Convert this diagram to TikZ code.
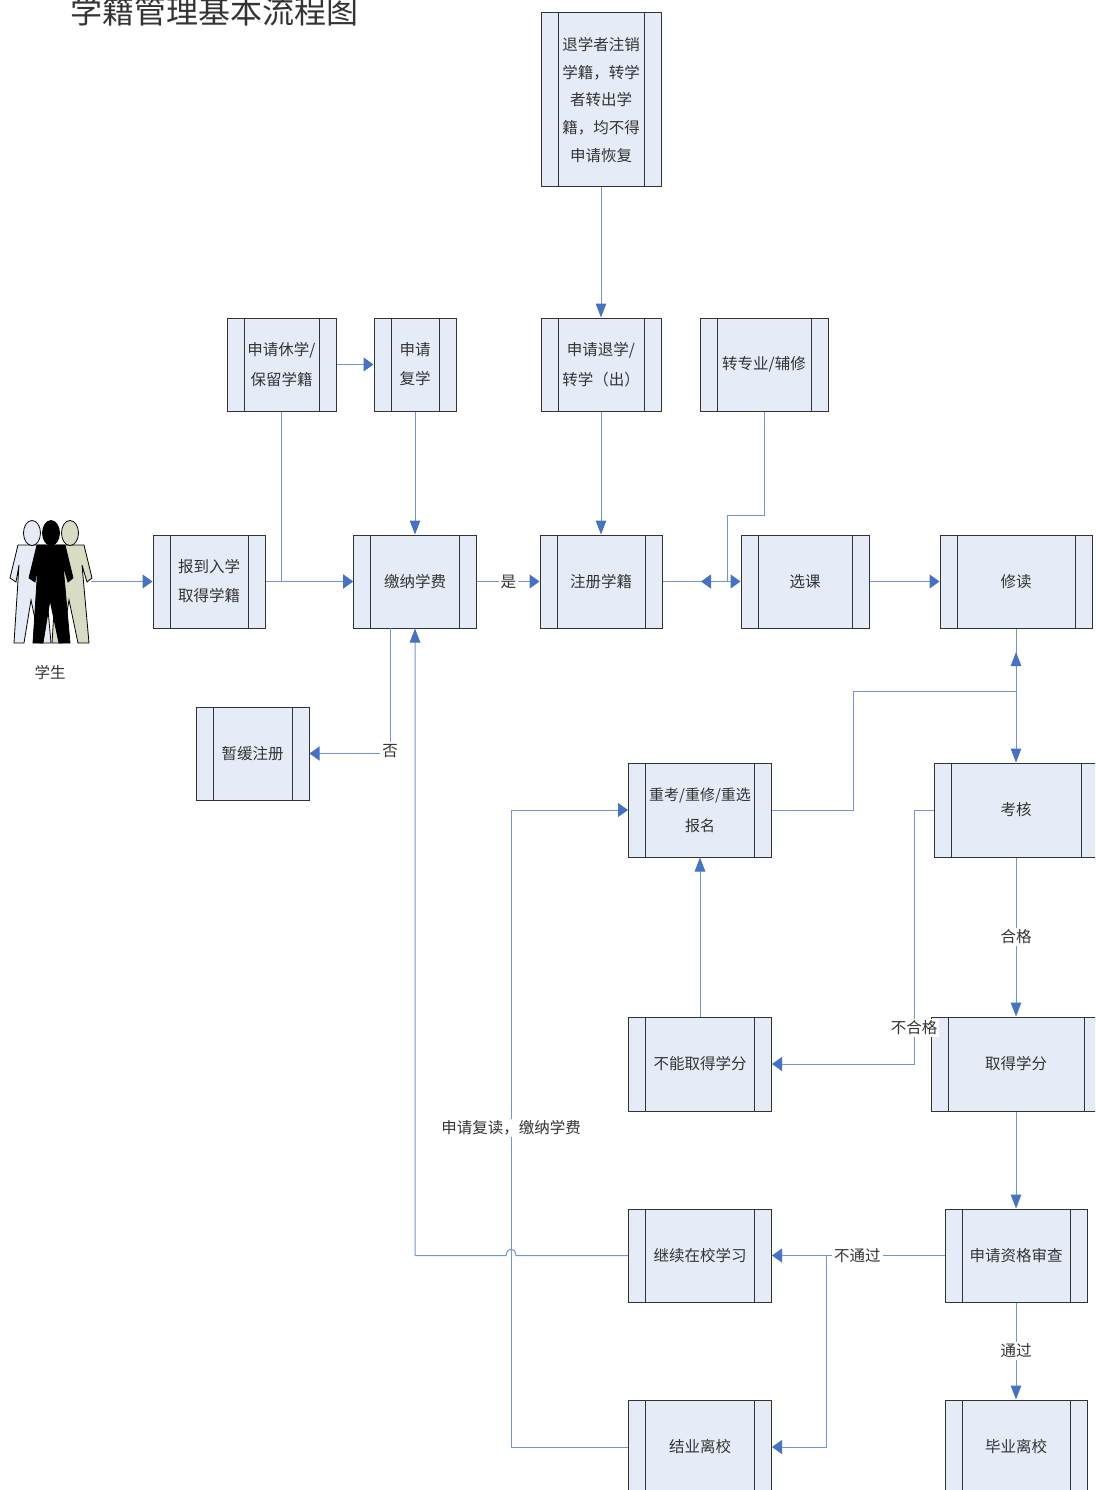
\documentclass[tikz,border=0pt]{standalone}
\usepackage{fontspec}
\setmainfont{Noto Sans CJK SC}
\usetikzlibrary{arrows.meta}
\definecolor{boxfill}{HTML}{E6ECF7}
\definecolor{linkblue}{HTML}{4472C4}
\definecolor{olivebody}{HTML}{D8DCC4}
\tikzset{
    procbox/.style 2 args = {draw = black!80, fill = boxfill, line width = 1pt, inner sep = 0pt,
        minimum width = #1 pt, minimum height = #2 pt, align = center, text = black!80,
        font = \fontsize{15.5}{29}\selectfont,
        path picture = {
            \draw[black!80, line width = 1pt] ([xshift = 17pt]path picture bounding box.south west) -- ([xshift = 17pt]path picture bounding box.north west);
            \draw[black!80, line width = 1pt] ([xshift = -17pt]path picture bounding box.south east) -- ([xshift = -17pt]path picture bounding box.north east);
        }},
    link/.style = {draw = linkblue!75, line width = 1pt},
    hlink/.style = {link, -{Triangle[length = 10pt, width = 14pt, color = linkblue]}},
    vlink/.style = {link, -{Triangle[length = 14pt, width = 10.5pt, color = linkblue]}},
    linklabel/.style = {fill = white, inner sep = 2pt, text = black!80, font = \fontsize{15.5}{18}\selectfont}
}
\begin{document}
\begin{tikzpicture}[x = 1pt, y = -1pt]
            \useasboundingbox (0, 0) rectangle (1095, 1490);
            \clip (0, 0) rectangle (1095, 1490);

            \node[text = black!80, font = \fontsize{32}{36}\selectfont] (title) at (214, 11) {学籍管理基本流程图};

            \foreach \px/\bodycolor in {32/boxfill, 70/olivebody, 51/black} {
                \fill[\bodycolor, draw = black, line width = 0.8pt] (\px - 14, 545) -- (\px + 14, 545) -- (\px + 22, 578) -- (\px + 17, 582) -- (\px + 12, 565) -- (\px + 19, 643) -- (\px + 8, 643) -- (\px - 1, 600) -- (\px - 8, 643) -- (\px - 18, 643) -- (\px - 13, 565) -- (\px - 16, 582) -- (\px - 22, 578) -- cycle;
                \fill[\bodycolor, draw = black, line width = 0.8pt] (\px, 533) ellipse (8.5 and 12.5);
            }
            \node[linklabel] (student) at (50, 673) {学生};
            \coordinate (studentout) at (91, 581.5);

            \node[procbox = {120}{174}, font = \fontsize{15.5}{27.7}\selectfont] (withdrawnote) at (601, 100) {退学者注销\\学籍，转学\\者转出学\\籍，均不得\\申请恢复};
            \node[procbox = {109}{93}, font = \fontsize{15.5}{30}\selectfont] (suspend) at (281.5, 364.5) {申请休学/\\保留学籍};
            \node[procbox = {82}{93}] (resume) at (415, 364.5) {申请\\复学};
            \node[procbox = {120}{93}, font = \fontsize{15.5}{30}\selectfont] (withdraw) at (601, 364.5) {申请退学/\\转学（出）};
            \node[procbox = {128}{93}] (transfer) at (764, 364.5) {转专业/辅修};
            \node[procbox = {112}{93}] (enroll) at (209, 581.5) {报到入学\\取得学籍};
            \node[procbox = {123}{93}] (tuition) at (415, 581.5) {缴纳学费};
            \node[procbox = {122}{93}] (register) at (601, 581.5) {注册学籍};
            \node[procbox = {128}{93}] (select) at (805, 581.5) {选课};
            \node[procbox = {152}{93}] (study) at (1016, 581.5) {修读};
            \node[procbox = {113}{93}] (defer) at (252.5, 753.5) {暂缓注册};
            \node[procbox = {143}{94}, font = \fontsize{15}{31}\selectfont] (retake) at (700, 810) {重考/重修/重选\\报名};
            \node[procbox = {164}{94}] (exam) at (1016, 810) {考核};
            \node[procbox = {143}{94}] (nocredit) at (700, 1064) {不能取得学分};
            \node[procbox = {170}{94}] (credit) at (1016, 1064) {取得学分};
            \node[procbox = {143}{93}] (stay) at (700, 1255.5) {继续在校学习};
            \node[procbox = {142}{93}] (review) at (1016, 1255.5) {申请资格审查};
            \node[procbox = {143}{94}] (complete) at (700, 1447) {结业离校};
            \node[procbox = {142}{94}] (graduate) at (1016, 1447) {毕业离校};

            \coordinate (tuitionout) at (390, 628);
            \coordinate (transferbendA) at (764, 515);
            \coordinate (transferbendB) at (727, 515);
            \coordinate (transfertip) at (701, 581.5);
            \coordinate (retakebendA) at (853, 810);
            \coordinate (retakebendB) at (853, 691);
            \coordinate (studytip) at (1016, 652);
            \coordinate (exambend) at (914, 810);
            \coordinate (stayjump) at (516, 1255.5);
            \coordinate (staybend) at (415, 1255.5);
            \coordinate (completebend) at (511, 1447);
            \coordinate (retakein) at (511, 810);
            \coordinate (failbend) at (826, 1255.5);

            \draw[hlink] (studentout) -- (enroll.west);
            \draw[hlink] (enroll.east) -- (tuition.west);
            \draw[hlink] (suspend.east) -- (resume.west);
            \draw[hlink] (suspend.south) |- (tuition.west);
            \draw[vlink] (resume.south) -- (tuition.north);
            \draw[hlink] (tuition.east) -- (register.west) node[linklabel, midway] (yes) {是};
            \draw[vlink] (withdrawnote.south) -- (withdraw.north);
            \draw[vlink] (withdraw.south) -- (register.north);
            \draw[hlink] (register.east) -- (select.west);
            \draw[hlink] (transfer.south) -- (transferbendA) -- (transferbendB) -- (transferbendB |- transfertip) -- (transfertip);
            \draw[hlink] (select.east) -- (study.west);
            \draw[vlink] (study.south) -- (exam.north);
            \draw[vlink] (retake.east) -- (retakebendA) -- (retakebendB) -- (retakebendB -| study.south) -- (studytip);
            \draw[hlink] (tuitionout) |- (defer.east);
            \node[linklabel] (no) at (390, 751) {否};
            \draw[vlink] (stay.west) -- (stayjump) .. controls (515, 1247) and (507, 1247) .. (506, 1255.5) -- (staybend) -- (tuition.south);
            \draw[hlink] (complete.west) -- (completebend) -- (retakein) -- (retake.west);
            \node[linklabel] (repeat) at (511, 1128) {申请复读，缴纳学费};
            \draw[vlink] (nocredit.north) -- (retake.south);
            \draw[hlink] (exam.west) -- (exambend) |- (nocredit.east);
            \node[linklabel] (fail) at (914, 1028) {不合格};
            \draw[vlink] (exam.south) -- (credit.north) node[linklabel, pos = 0.5] (pass) {合格};
            \draw[vlink] (credit.south) -- (review.north);
            \draw[hlink] (review.west) -- (stay.east) node[linklabel, pos = 0.505] (notok) {不通过};
            \draw[hlink] (failbend) |- (complete.east);
            \draw[vlink] (review.south) -- (graduate.north) node[linklabel, pos = 0.5] (ok) {通过};

        \end{tikzpicture}
\end{document}
